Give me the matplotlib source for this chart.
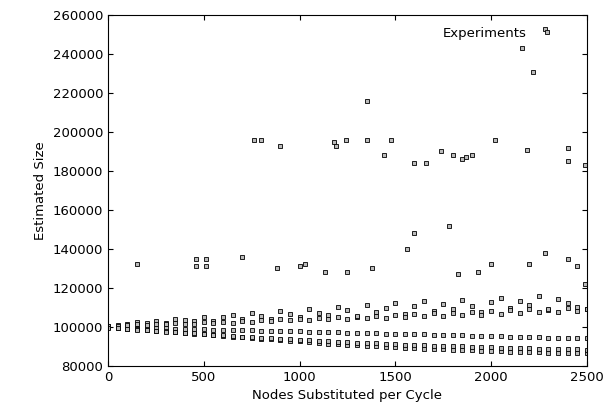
import matplotlib.pyplot as plt

# dense band, sampled every 50 nodes
band_x = [0, 50, 100, 150, 200, 250, 300, 350, 400, 450, 500, 550, 600, 650, 700, 750, 800, 850, 900, 950,
          1000, 1050, 1100, 1150, 1200, 1250, 1300, 1350, 1400, 1450, 1500, 1550, 1600, 1650, 1700, 1750,
          1800, 1850, 1900, 1950, 2000, 2050, 2100, 2150, 2200, 2250, 2300, 2350, 2400, 2450, 2500]
band_mid = [100000, 99800, 99700, 99600, 99400, 99300, 99200, 99100, 99000, 98900, 98700, 98600, 98500, 98400,
            98300, 98200, 98000, 97900, 97800, 97700, 97600, 97500, 97300, 97200, 97100, 97000, 96900, 96800,
            96600, 96500, 96400, 96300, 96200, 96100, 95900, 95800, 95700, 95600, 95500, 95400, 95200, 95100,
            95000, 94900, 94800, 94700, 94500, 94400, 94300, 94200, 94100]
band_high = [100500, 101000, 101500, 102500, 101800, 103000, 102000, 104000, 103500, 102800, 105000, 103200,
             104800, 106000, 103900, 107000, 105500, 104200, 108000, 106500, 105000, 109000, 107200, 106000,
             110000, 108500, 104800, 111000, 107500, 109800, 112000, 106800, 110500, 113000, 108200, 111500,
             109000, 114000, 110800, 107600, 112500, 115000, 109500, 113500, 111000, 116000, 108800, 114500,
             112200, 110000, 109000]
band_low = [99800, 99300, 99000, 98700, 98300, 98000, 97600, 97300, 96800, 96500, 96100, 95800, 95300, 95000,
            94600, 94300, 93800, 93500, 93000, 92800, 92500, 92000, 91800, 91400, 91000, 90800, 90500, 90200,
            90000, 89800, 89500, 89300, 89000, 88800, 88600, 88400, 88200, 88000, 87900, 87700, 87500, 87400,
            87200, 87100, 87000, 86900, 86800, 86700, 86600, 86500, 86400]
band_up2 = [100200, 100600, 100900, 101200, 101000, 101500, 101300, 102000, 101700, 101400, 102300, 101900,
            102600, 102200, 103100, 102700, 103500, 102900, 103900, 103300, 104200, 103600, 104600, 103800,
            105000, 104100, 105300, 104500, 105800, 104700, 106100, 105200, 106500, 105400, 106900, 105700,
            107300, 106000, 107800, 106300, 108200, 106700, 108600, 107000, 109000, 107400, 109400, 107700,
            109800, 108100, 109000]
band_low2 = [99500, 99200, 98900, 98500, 98200, 97900, 97500, 97200, 96900, 96600, 96200, 95900, 95700, 95400,
             95000, 94800, 94500, 94200, 93900, 93700, 93400, 93100, 92900, 92600, 92400, 92100, 91900, 91700,
             91500, 91300, 91100, 90900, 90700, 90500, 90400, 90200, 90000, 89900, 89700, 89600, 89400, 89300,
             89200, 89000, 88900, 88800, 88700, 88600, 88500, 88400, 88300]

# outliers
out_x = [150, 460, 460, 510, 510, 700, 760, 800, 880, 900, 1000, 1030, 1180, 1190, 1240, 1350, 1350, 1440,
         1480, 1600, 1600, 1660, 1740, 1780, 1800, 1850, 1870, 1900, 2020, 2160, 2190, 2220, 2280, 2400, 2400,
         2490, 2400, 2450, 2490, 2280, 2200, 2000, 1380, 1560, 1250, 1130, 1830, 1930]
out_y = [132000, 135000, 131000, 135000, 131000, 136000, 196000, 196000, 130000, 193000, 131000, 132000,
         195000, 193000, 196000, 216000, 196000, 188000, 196000, 184000, 148000, 184000, 190000, 152000, 188000,
         186000, 187000, 188000, 196000, 243000, 191000, 231000, 253000, 192000, 185000, 183000, 135000, 131000,
         122000, 138000, 132000, 132000, 130000, 140000, 128000, 128000, 127000, 128000]

xs = band_x * 5 + out_x
ys = band_mid + band_high + band_low + band_up2 + band_low2 + out_y

fig, ax = plt.subplots(figsize=(6.08, 4.19), dpi=100)
ax.plot(xs, ys, 's', ms=2.5, mfc='#bbbbbb', mec='black', mew=0.6, label='Experiments')
ax.set_xlim(0, 2500)
ax.set_ylim(80000, 260000)
ax.set_xticks([0, 500, 1000, 1500, 2000, 2500])
ax.set_yticks(range(80000, 260001, 20000))
ax.tick_params(direction='in', top=True, right=True, labelsize=9.5)
ax.set_xlabel('Nodes Substituted per Cycle', fontsize=9.5)
ax.set_ylabel('Estimated Size', fontsize=9.5)
ax.legend(loc='upper right', frameon=False, markerfirst=False, fontsize=9.5, handletextpad=0.6,
          bbox_to_anchor=(0.97, 1.0), markerscale=1.2)
fig.subplots_adjust(left=0.178, right=0.965, bottom=0.127, top=0.964)
fig.savefig('out.png', dpi=100)
